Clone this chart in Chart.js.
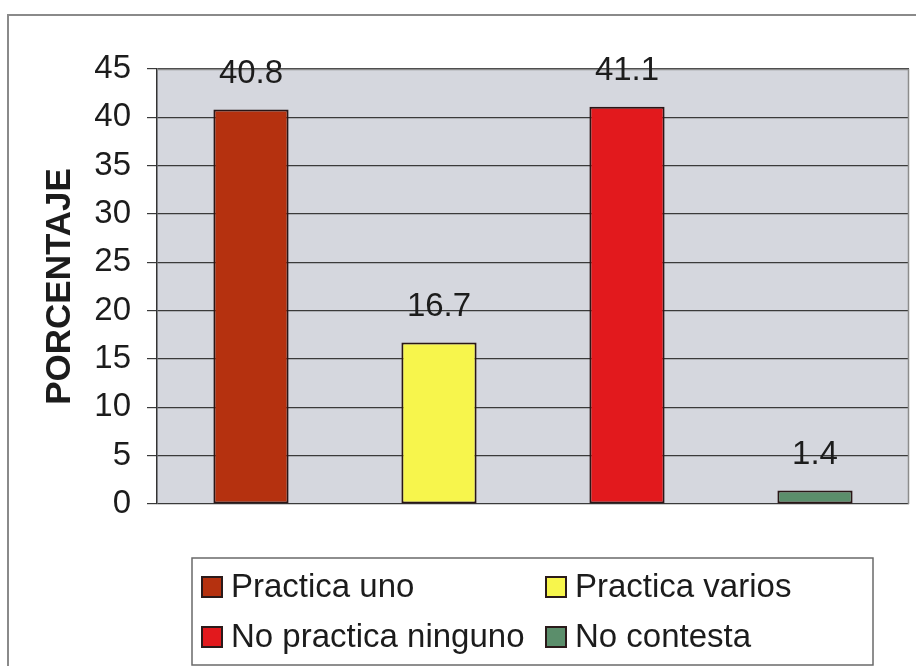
<!DOCTYPE html>
<html>
<head>
<meta charset="utf-8">
<script src="https://cdn.jsdelivr.net/npm/chart.js@4.4.1/dist/chart.umd.min.js"></script>
<style>
html,body{margin:0;padding:0;background:#fff;}
#wrap{width:916px;height:666px;}
</style>
</head>
<body>
<div id="wrap"><canvas id="c" width="916" height="666"></canvas></div>
<script>
const categories = ['Practica uno', 'Practica varios', 'No practica ninguno', 'No contesta'];
const values = [40.8, 16.7, 41.1, 1.4];
const barColors = ['#b5310f', '#f7f54c', '#e2191d', '#5b8e6b'];
const yTicks = [0, 5, 10, 15, 20, 25, 30, 35, 40, 45];
const yTitle = 'PORCENTAJE';

const FONT = '"Liberation Sans", Arial, sans-serif';

const bgPlugin = {
  id: 'bg',
  beforeDraw(chart) {
    const {ctx, chartArea: a} = chart;
    ctx.save();
    ctx.fillStyle = '#ffffff';
    ctx.fillRect(0, 0, chart.width, chart.height);
    ctx.strokeStyle = '#8a8a8a';
    ctx.lineWidth = 2;
    ctx.strokeRect(8, 15, chart.width + 20, chart.height + 20);
    ctx.fillStyle = '#d5d7de';
    ctx.fillRect(a.left, a.top, a.right - a.left, a.bottom - a.top);
    ctx.restore();
  },
  afterDatasetsDraw(chart) {
    const {ctx, chartArea: a} = chart;
    ctx.save();
    ctx.strokeStyle = '#8c8c8c';
    ctx.lineWidth = 1.5;
    ctx.beginPath();
    ctx.moveTo(a.left, a.top + 0.5);
    ctx.lineTo(a.right - 0.5, a.top + 0.5);
    ctx.lineTo(a.right - 0.5, a.bottom);
    ctx.stroke();
    // data labels
    const meta = chart.getDatasetMeta(0);
    ctx.fillStyle = '#1c1c1c';
    ctx.font = '33px ' + FONT;
    ctx.textAlign = 'center';
    ctx.textBaseline = 'middle';
    meta.data.forEach((bar, i) => {
      ctx.fillText(values[i].toFixed(1), bar.x, bar.y - 36);
    });
    ctx.restore();
  },
  afterDraw(chart) {
    const {ctx} = chart;
    ctx.save();
    // legend box
    ctx.strokeStyle = '#6a6a6a';
    ctx.lineWidth = 1.5;
    ctx.strokeRect(192, 558, 681, 107);
    const cols = [202, 546];
    const rows = [587, 637];
    ctx.font = '33px ' + FONT;
    ctx.textBaseline = 'middle';
    ctx.textAlign = 'left';
    categories.forEach((lab, i) => {
      const x = cols[i % 2];
      const y = rows[Math.floor(i / 2)];
      ctx.fillStyle = barColors[i];
      ctx.fillRect(x, y - 10, 20, 20);
      ctx.strokeStyle = '#2a1a1a';
      ctx.lineWidth = 2;
      ctx.strokeRect(x, y - 10, 20, 20);
      ctx.fillStyle = '#1c1c1c';
      ctx.fillText(lab, x + 29, y + 1);
    });
    ctx.restore();
  }
};

new Chart(document.getElementById('c'), {
  type: 'bar',
  data: {
    labels: categories,
    datasets: [{
      data: values,
      backgroundColor: barColors,
      borderColor: '#2a1616',
      borderWidth: 2,
      borderSkipped: false,
      barPercentage: 0.4,
      categoryPercentage: 1.0
    }]
  },
  options: {
    responsive: false,
    animation: false,
    devicePixelRatio: 1,
    layout: {padding: {left: 39, top: 69, right: 7, bottom: 162}},
    plugins: {legend: {display: false}, tooltip: {enabled: false}},
    scales: {
      x: {display: false},
      y: {
        min: 0, max: 45,
        afterBuildTicks(scale) { scale.ticks = yTicks.map(v => ({value: v})); },
        afterFit(scale) { scale.width = 118; },
        ticks: {
          font: {size: 33, family: FONT},
          color: '#1c1c1c',
          padding: 16,
          callback: v => String(v)
        },
        grid: {
          color: '#3a3a3a',
          lineWidth: 1.2,
          tickLength: 10,
          drawOnChartArea: true
        },
        border: {display: true, color: '#333', width: 1.5},
        title: {
          display: true,
          text: yTitle,
          color: '#1c1c1c',
          font: {size: 35, weight: 'bold', family: FONT},
          padding: {top: 0, bottom: 0}
        }
      }
    }
  },
  plugins: [bgPlugin]
});
</script>
</body>
</html>
